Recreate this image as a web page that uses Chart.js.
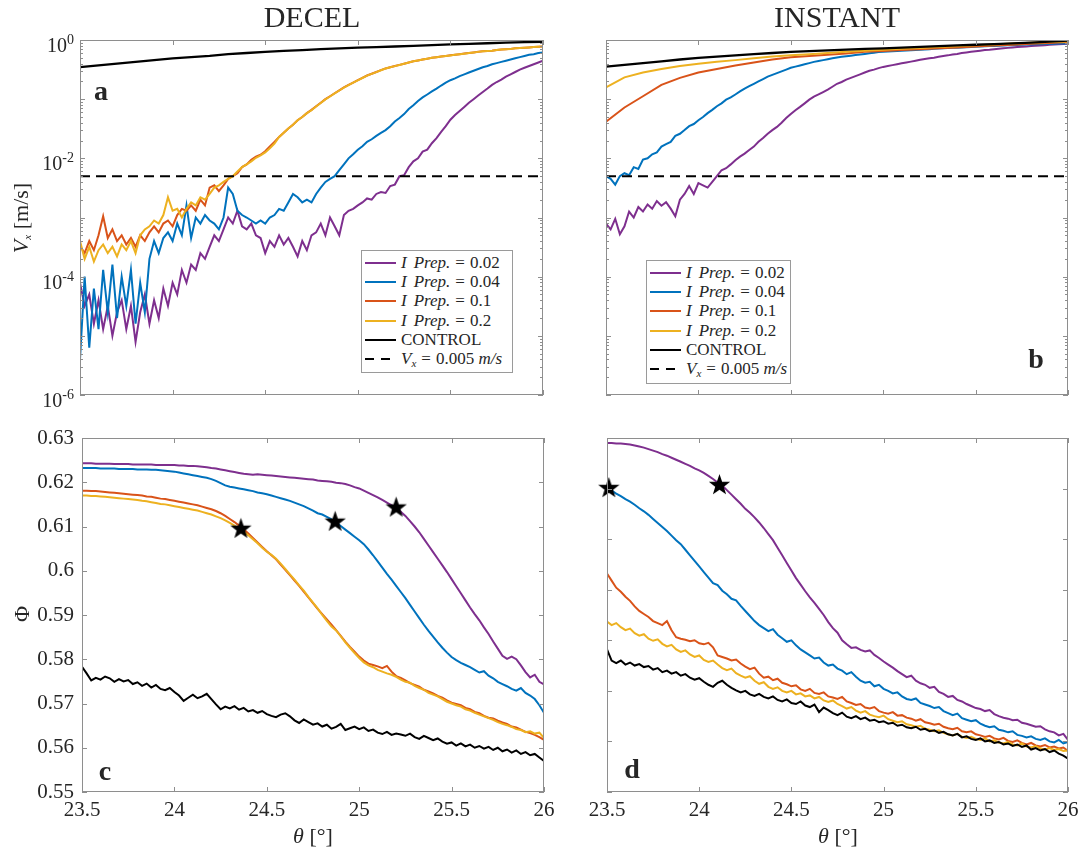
<!DOCTYPE html>
<html><head><meta charset="utf-8">
<script src="https://cdn.jsdelivr.net/npm/chart.js@4.4.1/dist/chart.umd.min.js"></script>
<style>
html,body{margin:0;padding:0;background:#fff}
body{width:1081px;height:855px;overflow:hidden;position:relative;font-family:"Liberation Serif","Times New Roman",serif;color:#262626}
canvas{position:absolute;left:0;top:0}
.c{position:absolute;transform:translate(-50%,-50%);white-space:nowrap;line-height:1}
.title{font-size:30px}
.ylab{position:absolute;transform:translate(-50%,-50%) rotate(-90deg);white-space:nowrap;line-height:1;font-size:22px}
.xlab{font-size:22px}
.let{font-size:28px;font-weight:bold}
.leg{position:absolute;background:#fff;border:1px solid #9a9a9a;box-sizing:border-box;font-size:17px;padding-top:2px}
.leg .r{height:19.3px;display:flex;align-items:center;white-space:nowrap}
.leg .s{width:31px;height:2px;margin:0 5px 0 3px;flex:none}
.leg .d{background:linear-gradient(90deg,#000 0 9px,transparent 9px 16px,#000 16px 25px,transparent 25px)}
.leg .g1{margin-left:7px}
.leg .g2{margin:0 5px}
sub{font-size:11px;vertical-align:-3px}
</style></head>
<body>
<canvas id="ca" width="1081" height="855"></canvas>
<canvas id="cb" width="1081" height="855"></canvas>
<canvas id="cc" width="1081" height="855"></canvas>
<canvas id="cd" width="1081" height="855"></canvas>

<div class="c title" style="left:312px;top:17px">DECEL</div>
<div class="c title" style="left:837px;top:17px">INSTANT</div>
<div class="ylab" style="left:21px;top:218px"><i>V<sub>x</sub></i> [m/s]</div>
<div class="ylab" style="left:22px;top:614px">Φ</div>
<div class="c xlab" style="left:313px;top:836px"><i>θ</i> [°]</div>
<div class="c xlab" style="left:838px;top:836px"><i>θ</i> [°]</div>
<div class="c let" style="left:101px;top:91px">a</div>
<div class="c let" style="left:1036px;top:359px">b</div>
<div class="c let" style="left:105px;top:771px">c</div>
<div class="c let" style="left:632px;top:769px">d</div>

<div class="leg" style="left:361px;top:250px;width:152px;height:123px">
 <div class="r"><span class="s" style="background:#7E2F8E"></span><i>I</i><i class="g1">Prep.</i><span class="g2">=</span>0.02</div>
 <div class="r"><span class="s" style="background:#0072BD"></span><i>I</i><i class="g1">Prep.</i><span class="g2">=</span>0.04</div>
 <div class="r"><span class="s" style="background:#D95319"></span><i>I</i><i class="g1">Prep.</i><span class="g2">=</span>0.1</div>
 <div class="r"><span class="s" style="background:#EDB120"></span><i>I</i><i class="g1">Prep.</i><span class="g2">=</span>0.2</div>
 <div class="r"><span class="s" style="background:#000"></span>CONTROL</div>
 <div class="r"><span class="s d"></span><i>V<sub>x</sub></i><span class="g2">=</span>0.005&nbsp;<i>m/s</i></div>
</div>
<div class="leg" style="left:646px;top:260px;width:145px;height:124px">
 <div class="r"><span class="s" style="background:#7E2F8E"></span><i>I</i><i class="g1">Prep.</i><span class="g2">=</span>0.02</div>
 <div class="r"><span class="s" style="background:#0072BD"></span><i>I</i><i class="g1">Prep.</i><span class="g2">=</span>0.04</div>
 <div class="r"><span class="s" style="background:#D95319"></span><i>I</i><i class="g1">Prep.</i><span class="g2">=</span>0.1</div>
 <div class="r"><span class="s" style="background:#EDB120"></span><i>I</i><i class="g1">Prep.</i><span class="g2">=</span>0.2</div>
 <div class="r"><span class="s" style="background:#000"></span>CONTROL</div>
 <div class="r"><span class="s d"></span><i>V<sub>x</sub></i><span class="g2">=</span>0.005&nbsp;<i>m/s</i></div>
</div>

<script>
// ---------- axis / tick data ----------
const thetaTicks = [23.5, 24, 24.5, 25, 25.5, 26];
const vxTicks = [1e-6, 1e-4, 1e-2, 1];
const phiTicksDecel = [0.55, 0.56, 0.57, 0.58, 0.59, 0.6, 0.61, 0.62, 0.63];
const phiTicksInst = [0.55, 0.56, 0.57, 0.58, 0.59, 0.6, 0.61, 0.62];
const vxThreshold = 0.005;
const thetaEnds = [23.5, 26];

// ---------- theta grids ----------
const thetaFine = [
23.5,23.525,23.55,23.575,23.6,23.625,23.65,23.675,23.7,23.725,
23.75,23.775,23.8,23.825,23.85,23.875,23.9,23.925,23.95,23.975,
24,24.025,24.05,24.075,24.1,24.125,24.15,24.175,24.2,24.225,
24.25,24.275,24.3,24.325,24.35,24.375,24.4,24.425,24.45,24.475,
24.5,24.525,24.55,24.575,24.6,24.625,24.65,24.675,24.7,24.725,
24.75,24.775,24.8,24.825,24.85,24.875,24.9,24.925,24.95,24.975,
25,25.025,25.05,25.075,25.1,25.125,25.15,25.175,25.2,25.225,
25.25,25.275,25.3,25.325,25.35,25.375,25.4,25.425,25.45,25.475,
25.5,25.525,25.55,25.575,25.6,25.625,25.65,25.675,25.7,25.725,
25.75,25.775,25.8,25.825,25.85,25.875,25.9,25.925,25.95,25.975,
26];
const thetaCoarse = [23.5,23.6,23.7,23.8,23.9,24,24.1,24.2,24.3,24.4,24.5,24.6,24.7,24.8,24.9,25,25.1,25.2,25.3,25.4,25.5,25.6,25.7,25.8,25.9,26];

// ---------- panel a : DECEL, Vx [m/s] ----------
const vxDecel002 = [
7.9e-5,3.2e-5,5.0e-5,1.6e-5,4.0e-5,1.3e-5,3.2e-5,1.0e-5,2.5e-5,4.0e-5,
1.3e-5,3.2e-5,7.9e-6,2.5e-5,5.0e-5,1.6e-5,4.0e-5,2.0e-5,6.3e-5,3.2e-5,
7.9e-5,5.0e-5,1.3e-4,7.9e-5,1.6e-4,1.3e-4,2.5e-4,2.0e-4,3.2e-4,5.0e-4,
4.0e-4,6.3e-4,1.0e-3,7.9e-4,1.3e-3,7.1e-4,6.3e-4,7.9e-4,5.0e-4,4.5e-4,
2.5e-4,4.0e-4,3.2e-4,5.0e-4,3.5e-4,4.5e-4,3.2e-4,2.2e-4,4.0e-4,2.8e-4,
5.0e-4,5.6e-4,7.9e-4,5.0e-4,1.0e-3,7.1e-4,5.0e-4,1.1e-3,1.3e-3,1.4e-3,
1.6e-3,1.8e-3,2.1e-3,2.0e-3,2.5e-3,2.7e-3,2.6e-3,3.4e-3,3.6e-3,5.0e-3,
5.2e-3,7.1e-3,8.9e-3,1.0e-2,1.3e-2,1.4e-2,1.8e-2,2.2e-2,2.8e-2,3.5e-2,
4.5e-2,5.4e-2,6.3e-2,7.4e-2,8.7e-2,0.1,0.115,0.132,0.151,0.174,
0.195,0.214,0.24,0.263,0.288,0.316,0.339,0.363,0.389,0.417,
0.447];
const vxDecel004 = [
4.0e-6,1.0e-4,6.3e-6,6.3e-5,1.3e-5,1.3e-4,2.5e-5,1.6e-4,2.0e-5,1.0e-4,
3.2e-5,1.3e-4,1.6e-5,7.9e-5,2.5e-5,2.0e-4,4.0e-4,2.5e-4,4.5e-4,5.6e-4,
4.0e-4,7.9e-4,5.0e-4,1.6e-3,4.5e-4,1.0e-3,7.9e-4,1.1e-3,8.9e-4,7.9e-4,
6.3e-4,1.0e-3,3.2e-3,2.5e-3,1.3e-3,1.1e-3,1.0e-3,8.9e-4,7.9e-4,8.9e-4,
7.9e-4,1.0e-3,1.1e-3,1.4e-3,1.3e-3,1.8e-3,2.5e-3,2.2e-3,1.8e-3,2.0e-3,
1.8e-3,2.5e-3,3.2e-3,4.0e-3,4.5e-3,5.0e-3,6.3e-3,7.9e-3,1.0e-2,1.17e-2,
1.4e-2,1.6e-2,1.9e-2,2.1e-2,2.4e-2,2.7e-2,3.0e-2,3.5e-2,4.2e-2,4.8e-2,
5.6e-2,6.8e-2,7.9e-2,9.3e-2,0.107,0.12,0.135,0.151,0.17,0.19,
0.209,0.224,0.245,0.263,0.282,0.302,0.324,0.347,0.363,0.389,
0.407,0.427,0.447,0.468,0.49,0.513,0.537,0.562,0.575,0.603,
0.617];
const vxDecel01 = [
3.3e-4,2.5e-4,4.0e-4,2.8e-4,5.0e-4,1.05e-3,4.5e-4,6.3e-4,4.0e-4,5.0e-4,
3.5e-4,4.5e-4,3.2e-4,5.0e-4,4.0e-4,5.6e-4,7.1e-4,5.6e-4,7.9e-4,8.9e-4,
7.1e-4,1.1e-3,1.4e-3,1.3e-3,1.6e-3,1.3e-3,2.0e-3,1.6e-3,3.2e-3,3.5e-3,
2.8e-3,3.5e-3,4.5e-3,5.0e-3,5.6e-3,7.1e-3,7.9e-3,9.5e-3,1.07e-2,1.15e-2,
1.32e-2,1.58e-2,1.9e-2,2.3e-2,2.7e-2,3.2e-2,3.7e-2,4.4e-2,5.0e-2,5.8e-2,
6.6e-2,7.6e-2,8.7e-2,0.1,0.112,0.126,0.141,0.158,0.174,0.191,
0.209,0.229,0.251,0.269,0.288,0.309,0.331,0.347,0.363,0.38,
0.398,0.417,0.437,0.452,0.468,0.484,0.501,0.513,0.525,0.537,
0.55,0.562,0.575,0.589,0.603,0.617,0.631,0.646,0.653,0.661,
0.676,0.692,0.7,0.708,0.724,0.733,0.741,0.75,0.759,0.767,
0.776];
const vxDecel02 = [
4.0e-4,2.0e-4,3.2e-4,1.8e-4,2.8e-4,3.5e-4,2.5e-4,3.2e-4,2.2e-4,3.5e-4,
2.8e-4,4.0e-4,2.5e-4,5.0e-4,6.3e-4,7.1e-4,8.9e-4,7.9e-4,1.1e-3,2.2e-3,
1.3e-3,1.4e-3,1.0e-3,1.4e-3,1.8e-3,1.6e-3,2.2e-3,2.0e-3,2.5e-3,3.2e-3,
3.5e-3,4.0e-3,4.5e-3,5.0e-3,6.0e-3,7.1e-3,7.9e-3,8.9e-3,1.02e-2,1.12e-2,
1.26e-2,1.48e-2,1.78e-2,2.3e-2,2.7e-2,3.2e-2,3.7e-2,4.4e-2,5.0e-2,5.8e-2,
6.5e-2,7.5e-2,8.6e-2,0.099,0.111,0.125,0.14,0.157,0.173,0.19,
0.208,0.228,0.25,0.268,0.287,0.308,0.33,0.346,0.362,0.379,
0.397,0.416,0.436,0.451,0.467,0.483,0.5,0.512,0.524,0.536,
0.549,0.561,0.574,0.588,0.602,0.616,0.63,0.645,0.652,0.66,
0.675,0.691,0.699,0.707,0.723,0.732,0.74,0.749,0.758,0.766,
0.775];
const vxDecelControl = [0.347,0.372,0.398,0.427,0.457,0.49,0.513,0.537,0.575,0.603,0.631,0.653,0.676,0.7,0.724,0.741,0.759,0.776,0.794,0.822,0.841,0.861,0.881,0.902,0.923,0.933];

// ---------- panel b : INSTANT, Vx [m/s] ----------
const vxInst002 = [
7.9e-4,6.3e-4,9.5e-4,5.2e-4,7.1e-4,1.26e-3,1.0e-3,1.5e-3,1.26e-3,1.66e-3,
1.41e-3,1.9e-3,1.58e-3,1.82e-3,1.41e-3,1.05e-3,2.0e-3,2.5e-3,3.4e-3,2.5e-3,
3.8e-3,3.5e-3,3.2e-3,4.0e-3,5.0e-3,6.3e-3,6.8e-3,7.9e-3,9.3e-3,1.07e-2,
1.2e-2,1.38e-2,1.58e-2,1.9e-2,2.2e-2,2.6e-2,3.0e-2,3.4e-2,4.0e-2,4.8e-2,
5.6e-2,6.5e-2,7.4e-2,8.5e-2,9.8e-2,0.11,0.12,0.132,0.145,0.162,
0.182,0.195,0.214,0.229,0.245,0.263,0.282,0.302,0.316,0.335,
0.351,0.363,0.376,0.389,0.403,0.417,0.431,0.447,0.462,0.479,
0.49,0.501,0.519,0.537,0.55,0.569,0.582,0.603,0.617,0.631,
0.646,0.661,0.676,0.684,0.7,0.711,0.724,0.736,0.748,0.759,
0.769,0.78,0.791,0.8,0.809,0.818,0.828,0.838,0.847,0.857,
0.867];
const vxInst004 = [
5.0e-3,4.5e-3,3.6e-3,5.0e-3,5.6e-3,5.2e-3,7.1e-3,6.6e-3,9.5e-3,1.0e-2,
1.17e-2,1.26e-2,1.58e-2,1.74e-2,1.9e-2,2.4e-2,2.6e-2,3.0e-2,3.5e-2,3.8e-2,
4.4e-2,5.0e-2,5.8e-2,6.6e-2,7.6e-2,8.5e-2,9.8e-2,0.107,0.12,0.135,
0.151,0.166,0.182,0.2,0.219,0.24,0.257,0.275,0.295,0.316,
0.339,0.355,0.372,0.389,0.407,0.427,0.442,0.457,0.473,0.49,
0.507,0.519,0.531,0.543,0.556,0.569,0.582,0.596,0.61,0.624,
0.631,0.638,0.645,0.652,0.659,0.666,0.673,0.68,0.687,0.694,
0.701,0.708,0.715,0.722,0.729,0.736,0.743,0.75,0.757,0.764,
0.771,0.777,0.783,0.789,0.795,0.801,0.807,0.813,0.819,0.825,
0.831,0.836,0.841,0.846,0.851,0.856,0.861,0.865,0.869,0.873,
0.877];
const vxInst01 = [0.0417,0.0724,0.112,0.174,0.229,0.282,0.324,0.372,0.417,0.468,0.513,0.537,0.562,0.589,0.631,0.653,0.676,0.7,0.724,0.75,0.776,0.804,0.832,0.861,0.891,0.923];
const vxInst02 = [0.158,0.234,0.282,0.324,0.363,0.398,0.427,0.457,0.49,0.525,0.55,0.575,0.603,0.631,0.661,0.684,0.708,0.733,0.759,0.785,0.813,0.841,0.871,0.902,0.923,0.944];
const vxInstControl = [0.355,0.38,0.407,0.437,0.468,0.5,0.525,0.55,0.575,0.603,0.631,0.65,0.668,0.688,0.706,0.724,0.745,0.766,0.787,0.81,0.832,0.855,0.879,0.903,0.94,0.977];

// ---------- panel c : DECEL, Phi ----------
const phiDecel002 = [
.6243,.6243,.6243,.6242,.6242,.6242,.6242,.6241,.6241,.6241,
.6241,.6240,.6240,.6240,.6240,.6240,.6239,.6239,.6239,.6239,
.6239,.6238,.6238,.6237,.6237,.6236,.6235,.6234,.6232,.6231,
.6229,.6227,.6225,.6223,.6221,.6219,.6218,.6217,.6218,.6217,
.6216,.6215,.6214,.6213,.6212,.6211,.6210,.6209,.6208,.6207,
.6206,.6204,.6203,.6202,.6201,.6199,.6198,.6196,.6193,.6189,
.6186,.6181,.6176,.6171,.6166,.6160,.6154,.6148,.6141,.6133,
.6124,.6112,.6100,.6087,.6072,.6057,.6042,.6027,.6012,.5997,
.5981,.5965,.5949,.5933,.5917,.5902,.5888,.5872,.5857,.5840,
.5824,.5808,.5801,.5806,.5800,.5786,.5771,.5759,.5765,.5749,
.5743];
const phiDecel004 = [
.6232,.6232,.6232,.6232,.6231,.6231,.6231,.6231,.6230,.6230,
.6230,.6230,.6229,.6229,.6229,.6228,.6228,.6227,.6226,.6225,
.6224,.6222,.6220,.6218,.6216,.6214,.6212,.6210,.6207,.6203,
.6198,.6193,.6190,.6188,.6186,.6184,.6182,.6180,.6177,.6175,
.6173,.6170,.6167,.6164,.6161,.6158,.6154,.6150,.6146,.6141,
.6136,.6130,.6127,.6122,.6116,.6109,.6101,.6093,.6085,.6077,
.6069,.6060,.6048,.6035,.6021,.6007,.5993,.5980,.5966,.5952,
.5938,.5923,.5908,.5893,.5878,.5864,.5851,.5838,.5826,.5815,
.5805,.5798,.5792,.5787,.5782,.5776,.5770,.5773,.5763,.5757,
.5749,.5744,.5739,.5733,.5729,.5735,.5724,.5718,.5710,.5696,
.5679];
const phiDecel01 = [
.6181,.6181,.6180,.6180,.6179,.6178,.6177,.6176,.6175,.6174,
.6173,.6172,.6171,.6170,.6168,.6167,.6165,.6163,.6162,.6160,
.6158,.6156,.6154,.6152,.6150,.6148,.6145,.6142,.6139,.6135,
.6130,.6124,.6117,.6110,.6102,.6094,.6084,.6074,.6064,.6054,
.6044,.6035,.6026,.6014,.6002,.5990,.5978,.5966,.5953,.5940,
.5927,.5914,.5902,.5890,.5878,.5866,.5853,.5840,.5828,.5817,
.5806,.5797,.5790,.5787,.5784,.5780,.5785,.5772,.5762,.5758,
.5752,.5746,.5742,.5738,.5731,.5727,.5723,.5717,.5713,.5707,
.5702,.5699,.5696,.5690,.5687,.5681,.5678,.5672,.5668,.5666,
.5661,.5657,.5654,.5648,.5646,.5641,.5636,.5633,.5629,.5624,
.5618];
const phiDecel02 = [
.6170,.6170,.6169,.6169,.6168,.6167,.6166,.6165,.6164,.6163,
.6162,.6161,.6160,.6158,.6157,.6155,.6153,.6151,.6150,.6148,
.6146,.6144,.6142,.6140,.6138,.6136,.6133,.6130,.6127,.6123,
.6119,.6114,.6108,.6102,.6095,.6088,.6080,.6071,.6062,.6052,
.6043,.6036,.6027,.6016,.6004,.5992,.5980,.5967,.5955,.5941,
.5928,.5915,.5900,.5887,.5874,.5865,.5852,.5838,.5826,.5814,
.5803,.5793,.5786,.5782,.5776,.5772,.5768,.5765,.5760,.5754,
.5749,.5747,.5740,.5735,.5731,.5724,.5720,.5716,.5710,.5704,
.5700,.5696,.5693,.5687,.5684,.5679,.5675,.5671,.5667,.5663,
.5658,.5654,.5651,.5647,.5642,.5640,.5635,.5637,.5632,.5634,
.5622];
const phiDecelControl = [
.5783,.5768,.5752,.5758,.5754,.5761,.5757,.5749,.5755,.5750,
.5753,.5744,.5748,.5740,.5745,.5736,.5742,.5733,.5730,.5735,
.5726,.5718,.5706,.5713,.5720,.5712,.5716,.5722,.5710,.5698,
.5687,.5693,.5689,.5694,.5686,.5690,.5682,.5685,.5679,.5683,
.5676,.5672,.5669,.5675,.5678,.5671,.5662,.5656,.5664,.5658,
.5652,.5655,.5648,.5652,.5643,.5647,.5654,.5640,.5644,.5648,
.5642,.5646,.5638,.5641,.5634,.5631,.5636,.5629,.5632,.5630,
.5627,.5632,.5624,.5620,.5627,.5622,.5617,.5621,.5614,.5609,
.5612,.5605,.5610,.5603,.5607,.5600,.5604,.5598,.5602,.5595,
.5600,.5592,.5596,.5589,.5594,.5586,.5590,.5583,.5586,.5578,
.5570];
const starsDecelTheta = [24.36, 24.87, 25.2];
const starsDecelPhi = [0.6096, 0.6112, 0.6144];

// ---------- panel d : INSTANT, Phi ----------
const phiInst002 = [
.6190,.6190,.6189,.6189,.6188,.6187,.6185,.6183,.6181,.6178,
.6175,.6172,.6168,.6165,.6161,.6157,.6153,.6149,.6145,.6140,
.6136,.6131,.6125,.6119,.6112,.6106,.6097,.6088,.6079,.6070,
.6060,.6052,.6043,.6033,.6022,.6010,.5998,.5983,.5968,.5953,
.5938,.5923,.5910,.5897,.5885,.5874,.5862,.5850,.5836,.5824,
.5815,.5800,.5792,.5785,.5786,.5781,.5778,.5780,.5771,.5765,
.5758,.5752,.5746,.5739,.5733,.5727,.5730,.5720,.5715,.5712,
.5706,.5708,.5698,.5694,.5688,.5690,.5682,.5679,.5674,.5670,
.5666,.5664,.5660,.5662,.5654,.5650,.5647,.5645,.5642,.5643,
.5637,.5635,.5632,.5629,.5630,.5624,.5620,.5618,.5612,.5615,
.5603];
const phiInst004 = [
.6101,.6096,.6090,.6085,.6079,.6074,.6068,.6061,.6055,.6048,
.6040,.6032,.6024,.6016,.6007,.5998,.5990,.5979,.5968,.5957,
.5946,.5935,.5924,.5913,.5909,.5898,.5891,.5882,.5879,.5868,
.5858,.5848,.5838,.5830,.5824,.5818,.5822,.5811,.5804,.5797,
.5800,.5790,.5782,.5776,.5770,.5764,.5766,.5756,.5750,.5752,
.5744,.5740,.5733,.5737,.5728,.5720,.5716,.5718,.5709,.5712,
.5704,.5700,.5695,.5697,.5689,.5684,.5682,.5685,.5676,.5673,
.5670,.5666,.5668,.5660,.5656,.5652,.5655,.5646,.5643,.5640,
.5642,.5635,.5631,.5628,.5630,.5623,.5621,.5618,.5620,.5613,
.5611,.5608,.5610,.5605,.5603,.5606,.5600,.5598,.5603,.5596,
.5599];
const phiInst01 = [
.5932,.5918,.5904,.5896,.5886,.5878,.5867,.5858,.5852,.5846,
.5838,.5834,.5830,.5838,.5820,.5806,.5803,.5801,.5798,.5800,
.5794,.5792,.5795,.5786,.5770,.5767,.5764,.5760,.5762,.5754,
.5748,.5743,.5746,.5734,.5726,.5728,.5721,.5724,.5716,.5713,
.5709,.5711,.5703,.5700,.5704,.5696,.5694,.5697,.5689,.5687,
.5684,.5688,.5679,.5676,.5672,.5674,.5667,.5665,.5668,.5660,
.5657,.5655,.5658,.5651,.5652,.5647,.5645,.5641,.5644,.5638,
.5636,.5633,.5635,.5629,.5626,.5624,.5627,.5620,.5618,.5620,
.5614,.5612,.5609,.5611,.5606,.5604,.5607,.5601,.5599,.5602,
.5597,.5594,.5597,.5592,.5590,.5593,.5588,.5590,.5586,.5588,
.5581];
const phiInst02 = [
.5837,.5830,.5834,.5826,.5820,.5823,.5814,.5809,.5812,.5803,
.5799,.5802,.5793,.5788,.5791,.5782,.5777,.5780,.5772,.5767,
.5770,.5761,.5757,.5760,.5752,.5745,.5741,.5744,.5735,.5730,
.5726,.5729,.5720,.5714,.5717,.5708,.5704,.5707,.5700,.5697,
.5700,.5693,.5695,.5689,.5691,.5685,.5688,.5681,.5678,.5681,
.5674,.5670,.5665,.5668,.5661,.5657,.5660,.5653,.5650,.5648,
.5651,.5644,.5641,.5638,.5640,.5634,.5632,.5629,.5631,.5625,
.5623,.5620,.5622,.5617,.5614,.5612,.5615,.5609,.5607,.5609,
.5605,.5603,.5606,.5600,.5602,.5598,.5596,.5599,.5594,.5592,
.5596,.5590,.5588,.5591,.5586,.5584,.5587,.5583,.5585,.5581,
.5582];
const phiInstControl = [
.5782,.5760,.5755,.5760,.5752,.5756,.5750,.5753,.5747,.5749,
.5742,.5745,.5737,.5740,.5734,.5737,.5730,.5733,.5726,.5722,
.5725,.5718,.5712,.5708,.5716,.5720,.5712,.5706,.5701,.5697,
.5700,.5693,.5690,.5694,.5688,.5685,.5689,.5682,.5679,.5683,
.5676,.5674,.5679,.5671,.5668,.5673,.5658,.5667,.5662,.5656,
.5652,.5657,.5649,.5646,.5650,.5644,.5647,.5641,.5643,.5638,
.5640,.5635,.5637,.5631,.5633,.5628,.5626,.5629,.5623,.5625,
.5620,.5622,.5617,.5619,.5614,.5612,.5615,.5608,.5610,.5605,
.5603,.5606,.5600,.5602,.5597,.5599,.5594,.5596,.5591,.5594,
.5589,.5592,.5584,.5587,.5582,.5585,.5579,.5582,.5576,.5572,
.5566];
const starsInstTheta = [23.51, 24.11];
const starsInstPhi = [0.6102, 0.6108];

// ---------- rendering ----------
const W = 1081, H = 855;
const XAXIS_H = 50, YAXIS_W = 70;
const C02 = '#7E2F8E', C04 = '#0072BD', C01 = '#D95319', C2 = '#EDB120', CK = '#000000';
const FONT = {family: '"Liberation Serif", "Times New Roman", serif', size: 21};

function pts(xs, ys) { return xs.map((x, i) => ({x: x, y: ys[i]})); }
function lineDs(label, xs, ys, color, order, extra) {
  return Object.assign({label, data: pts(xs, ys), borderColor: color, backgroundColor: color,
    borderWidth: 2, pointRadius: 0, fill: false, tension: 0, order}, extra || {});
}
function makeStar() {
  const c = document.createElement('canvas'); c.width = c.height = 23;
  const g = c.getContext('2d'); g.beginPath();
  for (let k = 0; k < 10; k++) {
    const r = k % 2 ? 4.5 : 11.2, a = -Math.PI / 2 + k * Math.PI / 5;
    const px = 11.5 + r * Math.cos(a), py = 12.3 + r * Math.sin(a);
    if (k) g.lineTo(px, py); else g.moveTo(px, py);
  }
  g.closePath(); g.fillStyle = '#000'; g.fill(); return c;
}
const starImg = makeStar();
function starDs(xs, ys) {
  return {label: 'stars', data: pts(xs, ys), showLine: false, pointStyle: starImg, pointRadius: 11,
    borderColor: '#000', backgroundColor: '#000', order: 0, clip: false};
}

const framePlugin = {
  id: 'frame',
  afterDatasetsDraw(chart, args, o) {
    const {ctx, chartArea: a} = chart; const xs = chart.scales.x, ys = chart.scales.y;
    ctx.save(); ctx.strokeStyle = '#8e8e8e'; ctx.lineWidth = 1; ctx.beginPath();
    const seg = (x1, y1, x2, y2) => { ctx.moveTo(x1, y1); ctx.lineTo(x2, y2); };
    thetaTicks.forEach(v => { const p = Math.round(xs.getPixelForValue(v)) + 0.5; seg(p, a.bottom, p, a.bottom - 5); seg(p, a.top, p, a.top + 5); });
    (o.yMajor || []).forEach(v => { const p = Math.round(ys.getPixelForValue(v)) + 0.5; seg(a.left, p, a.left + 5, p); seg(a.right, p, a.right - 5, p); });
    (o.yMinor || []).forEach(v => { const p = Math.round(ys.getPixelForValue(v)) + 0.5; seg(a.left, p, a.left + 3, p); seg(a.right, p, a.right - 3, p); });
    ctx.stroke();
    ctx.strokeRect(Math.round(a.left) + 0.5, Math.round(a.top) + 0.5, Math.round(a.right - a.left) - 1, Math.round(a.bottom - a.top) - 1);
    ctx.restore();
  }
};
const logLabelPlugin = {
  id: 'logLabels',
  afterDraw(chart, args, o) {
    if (!o.show) return;
    const {ctx, chartArea: a} = chart; const ys = chart.scales.y;
    ctx.save(); ctx.fillStyle = '#262626'; ctx.textBaseline = 'alphabetic';
    vxTicks.forEach(v => {
      const py = ys.getPixelForValue(v);
      const exp = String(Math.round(Math.log10(v)));
      ctx.font = '14px "Liberation Serif", serif';
      const ew = ctx.measureText(exp).width;
      const xr = a.left - 6;
      ctx.textAlign = 'left'; ctx.fillText(exp, xr - ew, py + 4);
      ctx.font = '20px "Liberation Serif", serif';
      ctx.textAlign = 'right'; ctx.fillText('10', xr - ew, py + 12);
    });
    ctx.restore();
  }
};

const logMinor = [];
for (let n = -6; n < 0; n++) { for (let k = 2; k <= 9; k++) logMinor.push(k * Math.pow(10, n)); }
const logDecades = [1e-6, 1e-5, 1e-4, 1e-3, 1e-2, 1e-1, 1];

function makeChart(id, area, opt) {
  return new Chart(document.getElementById(id).getContext('2d'), {
    type: 'line',
    data: {datasets: opt.datasets},
    options: {
      responsive: false, animation: false, devicePixelRatio: 1, events: [],
      layout: {padding: {left: area.l - YAXIS_W, top: area.t, right: W - area.r, bottom: H - area.b - XAXIS_H}},
      plugins: {legend: {display: false}, tooltip: {enabled: false},
        frame: {yMajor: opt.tickMajor, yMinor: opt.tickMinor}, logLabels: {show: !!opt.logLabels}},
      scales: {
        x: {type: 'linear', min: 23.5, max: 26, grid: {display: false, drawTicks: false}, border: {display: false},
          ticks: {display: !!opt.xLabels, padding: 6, font: FONT, color: '#262626', maxRotation: 0, minRotation: 0, autoSkip: false, callback: v => String(v)},
          afterBuildTicks: s => { s.ticks = thetaTicks.map(v => ({value: v})); },
          afterFit: s => { s.height = XAXIS_H; s.paddingLeft = 0; s.paddingRight = 0; s.paddingTop = 0; s.paddingBottom = 0; }},
        y: {type: opt.yType, min: opt.yMin, max: opt.yMax, grid: {display: false, drawTicks: false}, border: {display: false},
          ticks: {display: !!opt.yLabels, padding: 8, font: FONT, color: '#262626', autoSkip: false, callback: v => String(v)},
          afterBuildTicks: s => { s.ticks = opt.yTicks.map(v => ({value: v})); },
          afterFit: s => { s.width = YAXIS_W; s.paddingLeft = 0; s.paddingRight = 0; s.paddingTop = 0; s.paddingBottom = 0; }}
      }
    },
    plugins: [framePlugin, logLabelPlugin]
  });
}

const dashed = () => lineDs('Vx = 0.005 m/s', thetaEnds, [vxThreshold, vxThreshold], CK, 1, {borderDash: [10, 6]});

makeChart('ca', {l: 80, t: 40, r: 543, b: 395}, {
  yType: 'logarithmic', yMin: 1e-6, yMax: 1, yTicks: vxTicks, tickMajor: logDecades, tickMinor: logMinor, logLabels: true,
  datasets: [
    lineDs('I Prep. = 0.02', thetaFine, vxDecel002, C02, 6),
    lineDs('I Prep. = 0.04', thetaFine, vxDecel004, C04, 5),
    lineDs('I Prep. = 0.1', thetaFine, vxDecel01, C01, 4),
    lineDs('I Prep. = 0.2', thetaFine, vxDecel02, C2, 3),
    lineDs('CONTROL', thetaCoarse, vxDecelControl, CK, 2, {borderWidth: 2.3}),
    dashed()
  ]
});
makeChart('cb', {l: 606, t: 40, r: 1068, b: 395}, {
  yType: 'logarithmic', yMin: 1e-6, yMax: 1, yTicks: vxTicks, tickMajor: logDecades, tickMinor: logMinor,
  datasets: [
    lineDs('I Prep. = 0.02', thetaFine, vxInst002, C02, 6),
    lineDs('I Prep. = 0.04', thetaFine, vxInst004, C04, 5),
    lineDs('I Prep. = 0.1', thetaCoarse, vxInst01, C01, 4),
    lineDs('I Prep. = 0.2', thetaCoarse, vxInst02, C2, 3),
    lineDs('CONTROL', thetaCoarse, vxInstControl, CK, 2, {borderWidth: 2.3}),
    dashed()
  ]
});
makeChart('cc', {l: 82, t: 438, r: 544, b: 792}, {
  yType: 'linear', yMin: 0.55, yMax: 0.63, yTicks: phiTicksDecel, tickMajor: phiTicksDecel, xLabels: true, yLabels: true,
  datasets: [
    lineDs('I Prep. = 0.02', thetaFine, phiDecel002, C02, 6),
    lineDs('I Prep. = 0.04', thetaFine, phiDecel004, C04, 5),
    lineDs('I Prep. = 0.1', thetaFine, phiDecel01, C01, 4),
    lineDs('I Prep. = 0.2', thetaFine, phiDecel02, C2, 3),
    lineDs('CONTROL', thetaFine, phiDecelControl, CK, 2),
    starDs(starsDecelTheta, starsDecelPhi)
  ]
});
makeChart('cd', {l: 607, t: 438, r: 1068, b: 792}, {
  yType: 'linear', yMin: 0.55, yMax: 0.62, yTicks: phiTicksInst, tickMajor: phiTicksInst, xLabels: true,
  datasets: [
    lineDs('I Prep. = 0.02', thetaFine, phiInst002, C02, 6),
    lineDs('I Prep. = 0.04', thetaFine, phiInst004, C04, 5),
    lineDs('I Prep. = 0.1', thetaFine, phiInst01, C01, 4),
    lineDs('I Prep. = 0.2', thetaFine, phiInst02, C2, 3),
    lineDs('CONTROL', thetaFine, phiInstControl, CK, 2),
    starDs(starsInstTheta, starsInstPhi)
  ]
});
</script>
</body></html>
